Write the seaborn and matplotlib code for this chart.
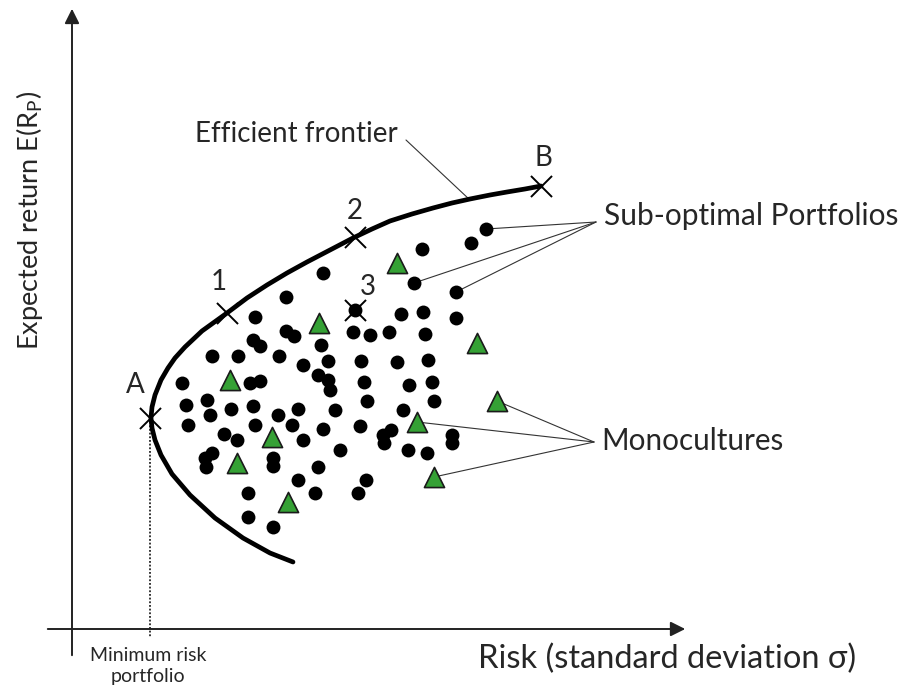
import matplotlib
matplotlib.use("Agg")
import matplotlib.pyplot as plt
import seaborn as sns
import pandas as pd

# values, in image pixels (y grows downward)
dots_x = [323, 286, 255, 286, 294, 253, 260, 321, 486, 471, 422, 414, 456, 355, 401, 423,
          456, 353, 370, 389, 425, 212, 238, 279, 303, 328, 182, 250, 260, 318, 328, 330,
          186, 207, 210, 231, 253, 278, 298, 335, 188, 255, 292, 323, 224, 237, 303, 340,
          212, 205, 206, 273, 273, 318, 298, 248, 315, 248, 273, 361, 397, 428, 364, 409,
          432, 367, 434, 403, 360, 391, 383, 384, 452, 452, 408, 427, 366, 358]
dots_y = [273, 297, 317, 331, 336, 340, 346, 345, 229, 243, 249, 283, 292, 310, 314, 312,
          318, 332, 335, 332, 334, 356, 356, 356, 365, 361, 383, 383, 381, 375, 380, 390,
          405, 400, 415, 409, 406, 415, 409, 410, 425, 425, 425, 429, 434, 440, 440, 450,
          453, 458, 467, 458, 466, 467, 480, 493, 493, 517, 527, 361, 362, 360, 382, 385,
          382, 401, 401, 410, 426, 430, 435, 443, 435, 443, 450, 453, 480, 493]

mono_x = [397, 319, 477, 230, 497, 417, 272, 237, 434, 288]
mono_y = [263, 323, 343, 380, 401, 422, 437, 463, 477, 502]

frontier_x = [293, 270, 243, 215, 190, 172, 161, 155, 152, 151, 152, 155, 161, 168, 175,
              185, 202, 227, 247, 267, 287, 307, 330, 353, 372, 390, 412, 433, 452, 470,
              490, 507, 525, 541]
frontier_y = [562, 553, 538, 518, 495, 474, 455, 440, 428, 418, 407, 395, 380, 368, 358,
              347, 331, 313, 298, 285, 273, 262, 250, 238, 229, 221, 214, 208, 203, 199,
              195, 192, 189, 186]

point_names = ["A", "1", "2", "3", "B"]
point_x = [150, 227, 355, 355, 541]
point_y = [418, 313, 237, 310, 186]

suboptimal_callout = [8, 11, 12]   # dots linked to the "Sub-optimal Portfolios" label
mono_callout = [4, 5, 8]           # triangles linked to "Monocultures"

sns.set_style("white")
plt.rcParams["font.family"] = ["Lato", "DejaVu Sans"]
plt.rcParams["mathtext.fontset"] = "custom"
plt.rcParams["mathtext.rm"] = "Lato"

W, H = 909, 693
fig = plt.figure(figsize=(W / 100, H / 100), dpi=100)
ax = fig.add_axes([0, 0, 1, 1])
ax.set_xlim(0, W)
ax.set_ylim(H, 0)
ax.axis("off")

dots = pd.DataFrame({"x": dots_x, "y": dots_y})
mono = pd.DataFrame({"x": mono_x, "y": mono_y})
frontier = pd.DataFrame({"x": frontier_x, "y": frontier_y})
pts = pd.DataFrame({"x": point_x, "y": point_y, "name": point_names})

# axes with arrows
axis_kw = dict(arrowstyle="-|>", lw=1.4, color="#222222", mutation_scale=22)
ax.annotate("", xy=(688, 629), xytext=(45, 629), arrowprops=axis_kw)
ax.annotate("", xy=(72, 6), xytext=(72, 658), arrowprops=axis_kw)

# minimum risk drop line
ax.plot([point_x[0], point_x[0]], [point_y[0], 637], ls=(0, (1.2, 1.2)), lw=1.1, color="black")

# callout lines
for i in suboptimal_callout:
    ax.plot([596, dots_x[i]], [222, dots_y[i]], lw=0.8, color="#333333", zorder=1)
for i in mono_callout:
    ax.plot([594, mono_x[i]], [442, mono_y[i]], lw=0.8, color="#333333", zorder=1)
ax.plot([406, 470], [140, 200], lw=0.8, color="#333333", zorder=1)

sns.scatterplot(data=dots, x="x", y="y", ax=ax, s=100, color="black", edgecolor="black",
                linewidth=0, zorder=3, legend=False)
sns.scatterplot(data=mono, x="x", y="y", ax=ax, marker="^", s=210, color="#35a135",
                edgecolor="#1a1a1a", linewidth=1.2, zorder=4, legend=False)
sns.lineplot(data=frontier, x="x", y="y", ax=ax, sort=False, estimator=None,
             color="black", lw=3.4, zorder=5)
ax.lines[-1].set_solid_joinstyle("round")
ax.lines[-1].set_solid_capstyle("round")
ax.scatter(pts["x"], pts["y"], marker="x", s=230, color="black", linewidths=1.4, zorder=6)

label_off = {"A": (-15, -33), "1": (-8, -31), "2": (0, -26), "3": (13, -23), "B": (2, -28)}
for name, x, y in zip(point_names, point_x, point_y):
    dx, dy = label_off[name]
    ax.text(x + dx, y + dy, name, fontsize=20, ha="center", va="center")

ax.text(195, 134, "Efficient frontier", fontsize=20, ha="left", va="center")
ax.text(604, 216, "Sub-optimal Portfolios", fontsize=21.5, ha="left", va="center")
ax.text(601, 441, "Monocultures", fontsize=21.3, ha="left", va="center")
ax.text(478, 659, "Risk (standard deviation σ)", fontsize=23.5, ha="left", va="center")
ax.text(30, 220, "Expected return E(R$\\mathregular{_P}$)", fontsize=19.5, rotation=90,
        ha="center", va="center")
ax.text(148, 666, "Minimum risk\nportfolio", fontsize=14, ha="center", va="center",
        linespacing=1.25)

ax.set_xlabel("")
ax.set_ylabel("")
fig.savefig("out.png", dpi=100)
